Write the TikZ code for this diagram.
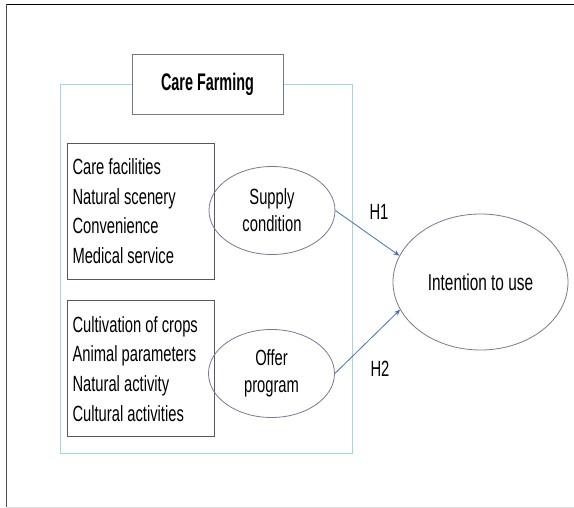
\documentclass[tikz,border=0pt]{standalone}
\usepackage{fontspec}
\setmainfont{Liberation Sans}[FakeStretch=0.67]
\newfontfamily\headfont{Liberation Sans}[FakeStretch=0.6]
\usetikzlibrary{positioning, shapes.geometric, arrows.meta}

\definecolor{framecyan}{RGB}{160,215,228}
\definecolor{boxline}{RGB}{80,88,110}
\definecolor{ovalline}{RGB}{120,120,150}
\definecolor{linkblue}{RGB}{68,114,180}

\begin{document}
\begin{tikzpicture}[x=1pt, y=-1pt, node distance=21pt, >={Stealth[length=6pt, width=5pt]},
  itembox/.style={draw=boxline, line width=0.8pt, rectangle, minimum width=147pt, minimum height=136pt, text width=137pt, inner xsep=5pt, align=left, font=\fontsize{22}{29.6}\selectfont, execute at begin node={\spaceskip=0pt\relax}},
  factor/.style={draw=ovalline, line width=0.8pt, ellipse, minimum width=126pt, minimum height=88pt, inner sep=0pt, align=center, font=\fontsize{22}{27}\selectfont},
  link/.style={->, draw=linkblue, line width=0.8pt},
  hyp/.style={font=\fontsize{22}{24}\selectfont}]

\useasboundingbox (0,0) rectangle (574,508);

% Page Border
\draw[black, line width=1.5pt] (6.7,4.3) -- (576,4.3);
\draw[black!70, line width=1.2pt] (6.7,4.3) -- (6.7,507);
\draw[black!12, line width=1pt] (6.7,507) -- (576,507);

% Care Farming Frame
\draw[framecyan, line width=0.8pt] (60,84) rectangle (352,453);
\node[draw=boxline!80, fill=white, line width=0.8pt, minimum width=151pt, minimum height=60pt, font=\headfont\bfseries\fontsize{24}{26}\selectfont] (care) at (207.5,84) {Care Farming};

% Indicator Boxes
\node[itembox] (supply_items) at (141,211) {Care facilities\\Natural scenery\\Convenience\\Medical service};
\node[itembox, below=21pt of supply_items] (offer_items) {Cultivation of crops\\Animal parameters\\Natural activity\\Cultural activities};

% Factors
\node[factor] (supply) at (272,210.5) {Supply\\condition};
\node[factor] (offer) at (271.5,373.5) {Offer\\program};
\node[factor, minimum width=175pt, minimum height=136pt, font=\fontsize{23}{26}\selectfont] (intention) at (480.5,282) {Intention to use};

% Hypotheses
\draw[link] (supply.east) -- (intention.162);
\draw[link] (offer.east) -- (intention.199);
\node[hyp] (h1) at (379,212) {H1};
\node[hyp] (h2) at (380,369) {H2};

\end{tikzpicture}
\end{document}
